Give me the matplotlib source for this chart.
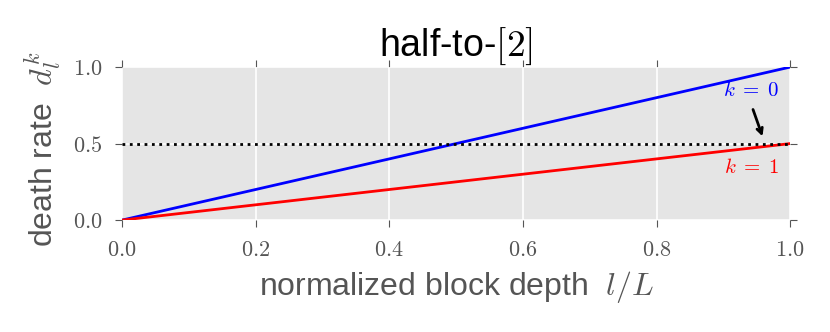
import matplotlib
matplotlib.use("Agg")
import matplotlib.pyplot as plt
import numpy as np

plt.style.use("ggplot")
plt.rcParams['mathtext.fontset'] = 'cm'

depth = [0.0, 1.0]
rate_k0 = [0.0, 1.0]
rate_k1 = [0.0, 0.5]
threshold = 0.5
xticks = [0.0, 0.2, 0.4, 0.6, 0.8, 1.0]
yticks = [0.0, 0.5, 1.0]

sans = ['Liberation Sans Narrow', 'Liberation Sans', 'DejaVu Sans']

fig = plt.figure(figsize=(8.3, 3.32), dpi=100)
ax = fig.add_axes([0.147, 0.337, 0.805, 0.461])
ax.set_facecolor('#E5E5E5')
ax.grid(True, color='white', linewidth=1.2)

ax.plot(depth, rate_k0, color='blue', linewidth=2)
ax.plot(depth, rate_k1, color='red', linewidth=2)
ax.plot(depth, [threshold, threshold], color='black', linestyle=':', linewidth=2)

ax.set_xlim(0, 1)
ax.set_ylim(0, 1)
ax.set_xticks(xticks)
ax.set_yticks(yticks)
ax.set_xticklabels([f'${v:.1f}$' for v in xticks])
ax.set_yticklabels([f'${v:.1f}$' for v in yticks])
ax.tick_params(axis='both', which='both', direction='out', color='#555555',
               labelcolor='#555555', labelsize=16, length=5,
               top=True, right=True, bottom=True, left=True)
ax.tick_params(axis='x', pad=9)
ax.tick_params(axis='y', pad=9)
for s in ax.spines.values():
    s.set_visible(False)

ax.text(0.942, 0.85, r'$k\;=\;0$', color='blue', fontsize=15, ha='center', va='center')
ax.text(0.942, 0.346, r'$k\;=\;1$', color='red', fontsize=15, ha='center', va='center')
ax.annotate('', xy=(0.96, 0.53), xytext=(0.943, 0.74),
            arrowprops=dict(arrowstyle='->', color='black', lw=2))

ax.set_title('half-to-$[2]$', fontsize=27, family=sans, color='black', pad=8)
ax.set_xlabel('normalized block depth  $l/L$', fontsize=23, family=sans, color='#555555', labelpad=7)
ax.set_ylabel('death rate  $d_l^k$', fontsize=23, family=sans, color='#555555', labelpad=7)
ax.yaxis.label.set_y(0.46)

fig.savefig('out.png', dpi=100)
